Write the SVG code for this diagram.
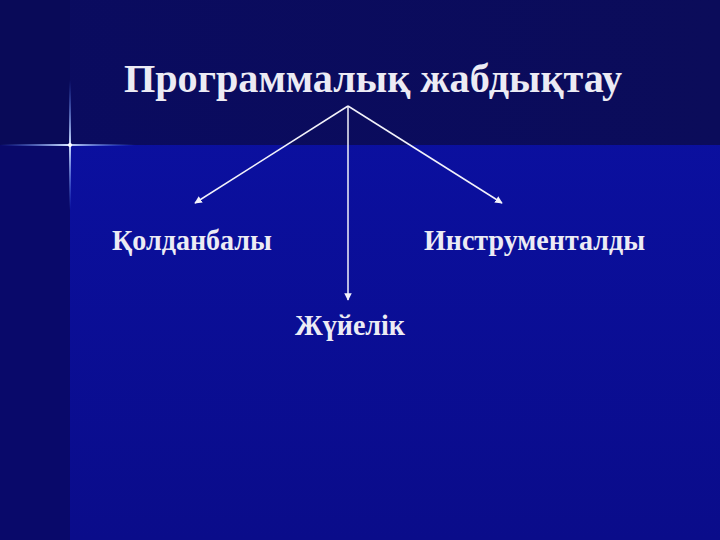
<svg xmlns="http://www.w3.org/2000/svg" width="720" height="540" viewBox="0 0 720 540">
<style>
.t{font-family:"Liberation Serif","Times New Roman",serif;font-weight:bold;fill:#ecebf4}
.c{stroke:#f2f2fa;stroke-width:1.5;fill:none}
</style>
<defs>
<linearGradient id="bg" x1="0" y1="0" x2="0" y2="1">
<stop offset="0" stop-color="#0b11a6"/>
<stop offset="1" stop-color="#0a0c8a"/>
</linearGradient>
<linearGradient id="top" x1="0" y1="0" x2="1" y2="0">
<stop offset="0" stop-color="#0a0b60"/>
<stop offset="1" stop-color="#0b0c5a"/>
</linearGradient>
<linearGradient id="hl" x1="0" y1="0" x2="1" y2="0">
<stop offset="0" stop-color="#4a7cff" stop-opacity="0"/>
<stop offset="0.5" stop-color="#cfe0ff" stop-opacity="1"/>
<stop offset="1" stop-color="#4a7cff" stop-opacity="0"/>
</linearGradient>
<linearGradient id="vl" x1="0" y1="0" x2="0" y2="1">
<stop offset="0" stop-color="#4a7cff" stop-opacity="0"/>
<stop offset="0.5" stop-color="#cfe0ff" stop-opacity="1"/>
<stop offset="1" stop-color="#4a7cff" stop-opacity="0"/>
</linearGradient>
<marker id="ah" viewBox="0 0 10 10" refX="9" refY="5" markerWidth="5" markerHeight="5" orient="auto" markerUnits="strokeWidth">
<path d="M0,0 L10,5 L0,10 z" fill="#f2f2fa"/>
</marker>
</defs>
<rect width="720" height="540" fill="url(#bg)"/>
<rect width="720" height="145" fill="url(#top)"/>
<rect x="0" y="0" width="70" height="540" fill="#09096a"/>
<rect x="0" y="0" width="70" height="145" fill="#090a58"/>
<g id="star">
<rect x="0" y="144" width="135" height="2" fill="url(#hl)"/>
<rect x="69" y="80" width="2" height="130" fill="url(#vl)"/>
<circle cx="70" cy="145" r="2" fill="#ffffff"/>
</g>
<g id="connectors">
<line class="c" x1="348" y1="106" x2="195" y2="203" marker-end="url(#ah)"/>
<line class="c" x1="348" y1="106" x2="502" y2="203" marker-end="url(#ah)"/>
<line class="c" x1="348" y1="106" x2="348" y2="300" stroke-width="1.2" marker-end="url(#ah)"/>
</g>
<g id="title"><text class="t" x="124" y="92" font-size="41" textLength="498" lengthAdjust="spacingAndGlyphs">Программалық жабдықтау</text></g>
<g id="n1"><text class="t" x="112" y="250" font-size="30" textLength="160" lengthAdjust="spacingAndGlyphs">Қолданбалы</text></g>
<g id="n2"><text class="t" x="424" y="250" font-size="30" textLength="221" lengthAdjust="spacingAndGlyphs">Инструменталды</text></g>
<g id="n3"><text class="t" x="295" y="335" font-size="30" textLength="110" lengthAdjust="spacingAndGlyphs">Жүйелік</text></g>
</svg>
